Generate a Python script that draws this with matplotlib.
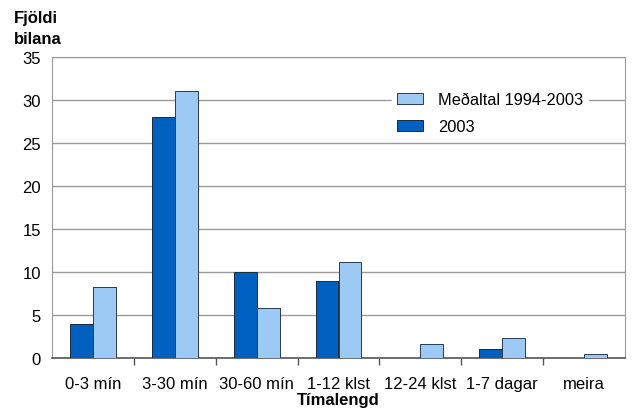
import numpy as np
import matplotlib.pyplot as plt

plt.rcParams['font.family'] = ['Liberation Sans', 'DejaVu Sans']

flokkar = ["0-3 mín", "3-30 mín", "30-60 mín", "1-12 klst", "12-24 klst", "1-7 dagar", "meira"]
ar_2003 = [4, 28, 10, 9, 0, 1, 0]
medaltal = [8.3, 31.1, 5.8, 11.2, 1.6, 2.3, 0.5]

fig = plt.figure(figsize=(6.33, 4.10), dpi=100)
ax = fig.add_axes([52 / 633, 1 - 359 / 410, 573 / 633, 301 / 410])

x = np.arange(len(flokkar))
w = 0.28
ax.bar(x - w / 2, ar_2003, w, color="#0060c0", edgecolor="#1a2a40", linewidth=0.7,
       label="2003", zorder=3)
ax.bar(x + w / 2, medaltal, w, color="#9ccaf4", edgecolor="#2a3a50", linewidth=0.7,
       label="Meðaltal 1994-2003", zorder=3)

ax.set_xlim(-0.5, len(flokkar) - 0.5)
ax.set_ylim(0, 35)
ax.set_yticks(range(0, 36, 5))
ax.yaxis.grid(True, color="#9a9a9a", linewidth=1.0, zorder=0)
ax.tick_params(axis="y", length=0, labelsize=12, pad=8)

ax.set_xticks(x)
ax.set_xticklabels(flokkar, fontsize=12)
ax.set_xticks(np.arange(0.5, len(flokkar) - 1, 1), minor=True)
ax.tick_params(axis="x", which="major", length=0, pad=13)
ax.tick_params(axis="x", which="minor", length=5, color="#555555", width=1)

for s in ["left", "right", "top"]:
    ax.spines[s].set_color("#9a9a9a")
ax.spines["bottom"].set_color("#555555")
ax.spines["bottom"].set_linewidth(1.2)

handles, labels = ax.get_legend_handles_labels()
leg = ax.legend(handles[::-1], labels[::-1], loc="upper left",
                bbox_to_anchor=(332 / 573, (359 - 80) / 301), frameon=True,
                fontsize=11.8, handlelength=1.6, handleheight=0.7, handletextpad=0.9,
                borderpad=0.3, labelspacing=0.75)
leg.get_frame().set_edgecolor("white")
leg.get_frame().set_facecolor("white")
leg.get_frame().set_alpha(1)

fig.text(14 / 633, 1 - 29 / 410, "Fjöldi\nbilana", fontsize=12, fontweight="bold",
         ha="left", va="center", linespacing=1.45)
fig.text(338 / 633, 1 - 401 / 410, "Tímalengd", fontsize=12, fontweight="bold",
         ha="center", va="center")

fig.savefig("out.png", dpi=100)
